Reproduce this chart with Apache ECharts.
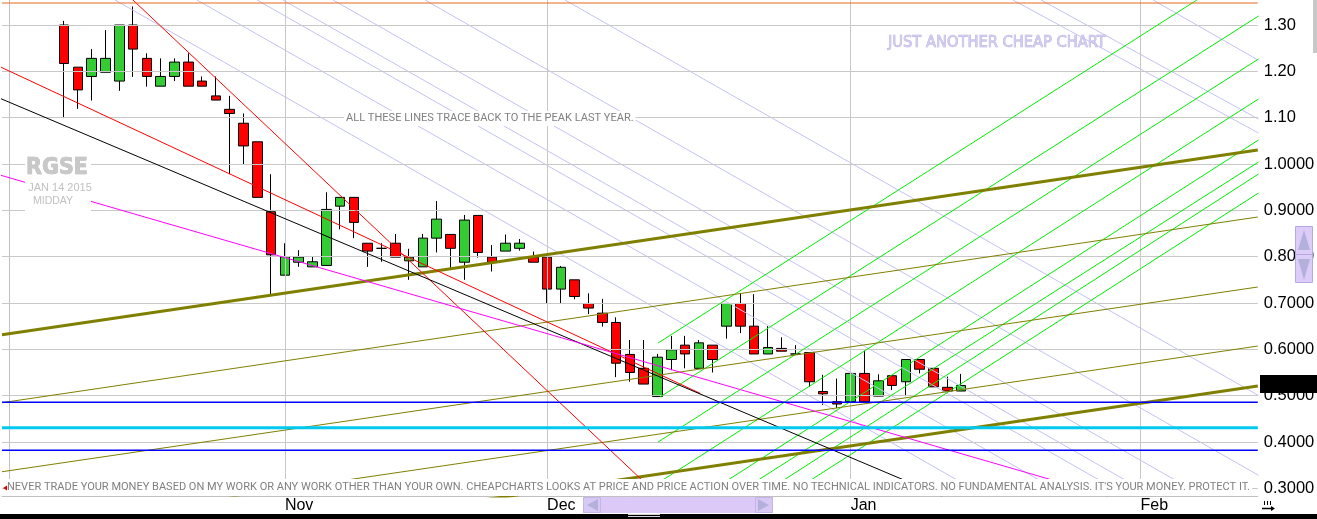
<!DOCTYPE html>
<html>
<head>
<meta charset="utf-8">
<script src="https://cdn.jsdelivr.net/npm/echarts@6/dist/echarts.min.js"></script>
<style>
html,body{margin:0;padding:0;background:#fff;overflow:hidden}
#chart{width:1317px;height:519px}
</style>
</head>
<body>
<div id="chart"></div>
<script>
// ---------- DATA ----------
const categories = [
 '2014-10-06','2014-10-07','2014-10-08','2014-10-09','2014-10-10','2014-10-13','2014-10-14','2014-10-15','2014-10-16','2014-10-17',
 '2014-10-20','2014-10-21','2014-10-22','2014-10-23','2014-10-24','2014-10-27','2014-10-28','2014-10-29','2014-10-30','2014-10-31',
 '2014-11-03','2014-11-04','2014-11-05','2014-11-06','2014-11-07','2014-11-10','2014-11-11','2014-11-12','2014-11-13','2014-11-14',
 '2014-11-17','2014-11-18','2014-11-19','2014-11-20','2014-11-21','2014-11-24','2014-11-25','2014-11-26','2014-11-28',
 '2014-12-01','2014-12-02','2014-12-03','2014-12-04','2014-12-05','2014-12-08','2014-12-09','2014-12-10','2014-12-11','2014-12-12',
 '2014-12-15','2014-12-16','2014-12-17','2014-12-18','2014-12-19','2014-12-22','2014-12-23','2014-12-24','2014-12-26','2014-12-29','2014-12-30','2014-12-31',
 '2015-01-02','2015-01-05','2015-01-06','2015-01-07','2015-01-08','2015-01-09','2015-01-12','2015-01-13','2015-01-14',
 '2015-01-15','2015-01-16','2015-01-19','2015-01-20','2015-01-21','2015-01-22','2015-01-23','2015-01-26','2015-01-27','2015-01-28','2015-01-29','2015-01-30',
 '2015-02-02','2015-02-03','2015-02-04','2015-02-05','2015-02-06','2015-02-09','2015-02-10','2015-02-11','2015-02-12'
];
const monthLabels = {'2014-11-03':'Nov','2014-12-01':'Dec','2015-01-02':'Jan','2015-02-02':'Feb'};
const firstCandle = '2014-10-10';

const opens = [1.300,1.209,1.189,1.198,1.179,1.300,1.228,1.168,1.189,1.220,1.179,1.147,1.118,1.088,1.048,0.897,
 0.760,0.788,0.778,0.781,0.909,0.928,0.829,0.818,0.829,0.791,0.778,0.840,0.848,0.788,0.889,0.799,0.812,0.818,0.799,
 0.799,0.730,0.750,0.699,0.678,0.658,0.589,0.559,0.498,0.578,0.609,0.559,0.609,0.650,0.699,0.650,0.590,0.602,0.590,0.593,0.509,0.487,
 0.487,0.548,0.499,0.543,0.530,0.578,0.559,0.518,0.510];
const closes = [1.217,1.160,1.228,1.228,1.300,1.248,1.189,1.189,1.220,1.168,1.168,1.138,1.109,1.039,0.928,0.804,
 0.800,0.799,0.789,0.902,0.928,0.874,0.812,0.818,0.799,0.799,0.840,0.881,0.818,0.879,0.809,0.788,0.829,0.829,0.788,
 0.730,0.777,0.714,0.689,0.658,0.570,0.550,0.525,0.583,0.599,0.590,0.614,0.578,0.699,0.650,0.590,0.604,0.596,0.590,0.530,0.504,0.482,
 0.548,0.487,0.532,0.522,0.578,0.557,0.519,0.510,0.522];
const lows = [1.099,1.119,1.137,1.198,1.158,1.188,1.167,1.168,1.179,1.168,1.168,1.138,0.978,0.999,0.928,0.717,
 0.760,0.778,0.778,0.781,0.859,0.840,0.778,0.789,0.799,0.750,0.778,0.809,0.775,0.750,0.798,0.768,0.812,0.813,0.788,
 0.699,0.699,0.708,0.676,0.649,0.540,0.530,0.525,0.498,0.555,0.559,0.559,0.550,0.623,0.635,0.590,0.590,0.596,0.590,0.519,0.480,0.473,
 0.487,0.487,0.499,0.512,0.499,0.548,0.519,0.510,0.510];
const highs = [1.309,1.209,1.248,1.289,1.300,1.340,1.239,1.228,1.228,1.239,1.189,1.189,1.147,1.109,1.048,0.978,
 0.829,0.814,0.800,0.939,0.928,0.928,0.829,0.829,0.849,0.817,0.849,0.920,0.848,0.890,0.889,0.825,0.848,0.838,0.811,
 0.799,0.780,0.750,0.721,0.709,0.669,0.620,0.620,0.590,0.629,0.629,0.620,0.609,0.699,0.721,0.719,0.650,0.626,0.609,0.593,0.545,0.537,
 0.548,0.597,0.546,0.543,0.578,0.578,0.559,0.541,0.547];

const yMin = 0.2834, yMax = 1.354;
const tickValues = [0.3,0.4,0.5,0.6,0.7,0.8,0.9,1.0,1.1,1.2,1.3];
const tickLabels = ['0.3000','0.4000','0.5000','0.6000','0.7000','0.8000','0.9000','1.0000','1.10','1.20','1.30'];

// trend lines: endpoints as [trading-day index, price]
const oliveThick = [[[-0.5,0.6315],[90.5,1.0302]], [[-0.5,0.1222],[90.5,0.5208]]];
const oliveThin  = [[[-0.5,0.4848],[90.5,0.8856]], [[-0.5,0.3358],[90.5,0.7345]], [[-0.5,0.2085],[90.5,0.6071]]];
const redLines   = [[[8.99,1.354],[47.1,0.2834]], [[-0.65,1.210],[50.1,0.5048]]];
const blackLine  = [[-0.65,1.1418],[67.6,0.2834]];
const magentaLine= [[-0.65,0.9762],[79.6,0.2834]];
const greenFan = [
 [[47.04,0.6136],[86.09,1.354]],
 [[47.18,0.4971],[90.55,1.3194]],
 [[47.04,0.3999],[90.55,1.2266]],
 [[47.04,0.3114],[90.55,1.1403]],
 [[50.30,0.2834],[90.55,1.0518]],
 [[52.47,0.2834],[90.55,1.0043]],
 [[54.36,0.2834],[90.55,0.9784]],
 [[56.31,0.2834],[90.55,0.9374]]
];
const lavenderFan = [
 [[7.69,1.354],[70.75,0.2834]],
 [[13.63,1.354],[76.69,0.2834]],
 [[17.98,1.354],[81.04,0.2834]],
 [[19.86,1.354],[82.92,0.2834]],
 [[23.49,1.354],[86.54,0.2834]],
 [[30.15,1.354],[90.55,0.3281]],
 [[40.30,1.354],[90.55,0.5003]],
 [[72.76,1.354],[90.55,1.0670]],
 [[74.79,1.354],[90.55,1.0970]],
 [[82.91,1.354],[90.55,1.2238]]
];
const blueLevels = [0.4856, 0.382];
const cyanLevel = 0.4308;
const orangeLevel = 1.3475;

// ---------- CHART ----------
const offset = categories.indexOf(firstCandle);
const candleData = categories.map((d, i) => {
  const k = i - offset;
  if (k < 0 || k >= opens.length) return '-';
  return [opens[k], closes[k], lows[k], highs[k]];
});
const monthIdx = categories.map((c, i) => monthLabels[c] ? i : -1).filter(i => i >= 0);

function seg(pts, color, width, z) {
  return {type:'line', xAxisIndex:1, yAxisIndex:0, data:pts, symbol:'none', silent:true,
    lineStyle:{color:color, width:width}, z:z || 5, clip:true, animation:false};
}
const lineSeries = [];
lavenderFan.forEach(p => lineSeries.push(seg(p, '#c2c2f4', 1, 4)));
greenFan.forEach(p => lineSeries.push(seg(p, '#00ee00', 1, 5)));
oliveThin.forEach(p => lineSeries.push(seg(p, '#808000', 1, 6)));
oliveThick.forEach(p => lineSeries.push(seg(p, '#808000', 3, 6)));
redLines.forEach(p => lineSeries.push(seg(p, '#ff0000', 1, 6)));
lineSeries.push(seg(blackLine, '#000000', 1, 6));
lineSeries.push(seg(magentaLine, '#ff00ff', 1, 6));
blueLevels.forEach(v => lineSeries.push(seg([[-0.5, v],[90.5, v]], '#0000ff', 1.5, 6)));
lineSeries.push(seg([[-0.5, cyanLevel],[90.5, cyanLevel]], '#00c8f0', 3, 6));
lineSeries.push(seg([[-0.5, orangeLevel],[90.5, orangeLevel]], '#e86a1c', 1.2, 6));

const gridSeries = {
  type:'line', xAxisIndex:1, yAxisIndex:0, data:[], symbol:'none', silent:true, z:0,
  markLine:{
    silent:true, symbol:['none','none'], animation:false,
    lineStyle:{color:'#c8c8c8', type:'solid', width:1},
    data: tickValues.map((v, i) => ({
      yAxis: v,
      label:{show:true, position:'end', formatter: tickLabels[i], color:'#000',
        fontSize:16.5, fontFamily:'"Liberation Sans", Arial, sans-serif', distance:6}
    })).concat(monthIdx.map(i => ({xAxis: i, label:{show:false}})))
  }
};

const chart = echarts.init(document.getElementById('chart'), null, {renderer:'canvas'});
const option = {
  animation:false,
  backgroundColor:'#ffffff',
  grid:{left:2, right:59.2, top:0, bottom:23, containLabel:false},
  xAxis:[
    {type:'category', data:categories, boundaryGap:true,
     axisLine:{show:true, lineStyle:{color:'#c0c0c0'}}, axisTick:{show:false}, splitLine:{show:false},
     axisLabel:{show:true, interval:(idx, val) => !!monthLabels[val], formatter:(val) => monthLabels[val] || '',
       color:'#000', fontSize:16, fontFamily:'"Liberation Sans", Arial, sans-serif', align:'left', margin:2, verticalAlign:'top'}},
    {type:'value', min:-0.5, max:90.5, show:false, splitLine:{show:false}}
  ],
  yAxis:[{type:'value', position:'right', min:yMin, max:yMax, scale:true,
    axisLine:{show:true, lineStyle:{color:'#c0c0c0'}}, axisTick:{show:false},
    axisLabel:{show:false}, splitLine:{show:false}}],
  series:[
    gridSeries,
    {type:'candlestick', xAxisIndex:0, yAxisIndex:0, data:candleData, barWidth:10, z:3,
     itemStyle:{color:'#33cc33', color0:'#ff0000', borderColor:'#000', borderColor0:'#000', borderColorDoji:'#000', borderWidth:1}}
  ].concat(lineSeries),
  graphic:[
    {type:'rect', z:100, shape:{x:25, y:151, width:66, height:61}, style:{fill:'#fff'}},
    {type:'text', z:101, x:57, y:168, style:{text:'RGSE', font:'bold 23px "DejaVu Sans Condensed", "DejaVu Sans"', fill:'#c8c8c8', align:'center', verticalAlign:'middle', stroke:'#adadad', lineWidth:0.6}},
    {type:'text', z:101, x:60, y:188, style:{text:'JAN 14 2015', font:'11px "Liberation Sans"', fill:'#c0c0c0', align:'center', verticalAlign:'middle'}},
    {type:'text', z:101, x:53, y:201.5, style:{text:'MIDDAY', font:'10.5px "Liberation Sans"', fill:'#c0c0c0', align:'center', verticalAlign:'middle'}},
    {type:'text', z:101, x:888, y:43, style:{text:'JUST ANOTHER CHEAP CHART', font:'16.3px "DejaVu Sans Condensed", "DejaVu Sans"', fill:'#d2caf0', align:'left', verticalAlign:'middle', stroke:'#b4acdc', lineWidth:0.7}},
    {type:'text', z:101, x:344, y:118.5, style:{text:'ALL THESE LINES TRACE BACK TO THE PEAK LAST YEAR.', font:'11.05px Roboto', fill:'#808080', align:'left', verticalAlign:'middle', backgroundColor:'#fff', padding:[2,2,2,2]}},
    {type:'text', z:101, x:5, y:487.5, style:{text:"NEVER TRADE YOUR MONEY BASED ON MY WORK OR ANY WORK OTHER THAN YOUR OWN. CHEAPCHARTS LOOKS AT PRICE AND PRICE ACTION OVER TIME. NO TECHNICAL INDICATORS. NO FUNDAMENTAL ANALYSIS. IT'S YOUR MONEY. PROTECT IT.", font:'11.03px Roboto', fill:'#808080', align:'left', verticalAlign:'middle', backgroundColor:'#fff', padding:[3,2,3,2]}},
    {type:'polygon', z:102, shape:{points:[[3,488],[7,485.5],[7,490.5]]}, style:{fill:'#e00000'}},
    // bottom scroll bar
    {type:'rect', z:100, shape:{x:583, y:497, width:190, height:16}, style:{fill:'#dcc9f7'}},
    {type:'rect', z:101, shape:{x:583.5, y:497.5, width:17, height:15}, style:{fill:'#d8c8f4', stroke:'#c4b4e8', lineWidth:1}},
    {type:'rect', z:101, shape:{x:755.5, y:497.5, width:17, height:15}, style:{fill:'#d8c8f4', stroke:'#c4b4e8', lineWidth:1}},
    {type:'polygon', z:102, shape:{points:[[587,505],[598,499],[598,511]]}, style:{fill:'#b4b0dc'}},
    {type:'polygon', z:102, shape:{points:[[769,505],[758,499],[758,511]]}, style:{fill:'#b4b0dc'}},
    // right widgets
    {type:'rect', z:100, shape:{x:1295.5, y:226.5, width:17, height:56}, style:{fill:'#dccdf8', stroke:'#b8a8e0', lineWidth:1}},
    {type:'line', z:101, shape:{x1:1296, y1:254.5, x2:1312, y2:254.5}, style:{stroke:'#b8a8e0', lineWidth:1}},
    {type:'polygon', z:102, shape:{points:[[1304,230],[1298,250],[1310,250]]}, style:{fill:'#b4b0dc'}},
    {type:'polygon', z:102, shape:{points:[[1304,280],[1298,259],[1310,259]]}, style:{fill:'#b4b0dc'}},
    {type:'rect', z:100, shape:{x:1313, y:0, width:4, height:53}, style:{fill:'#c8c8c8'}},
    {type:'rect', z:100, shape:{x:1260, y:375, width:57, height:18}, style:{fill:'#000'}},
    // bottom black bar and icons
    {type:'rect', z:100, shape:{x:0, y:514, width:1317, height:5}, style:{fill:'#000'}},
    {type:'line', z:101, shape:{x1:628, y1:514.5, x2:660, y2:514.5}, style:{stroke:'#d0d0d0', lineWidth:1}},
    {type:'line', z:101, shape:{x1:628, y1:516.5, x2:660, y2:516.5}, style:{stroke:'#d0d0d0', lineWidth:1}},
    {type:'line', z:101, shape:{x1:1264.5, y1:501, x2:1264.5, y2:505}, style:{stroke:'#000', lineWidth:1}},
    {type:'line', z:101, shape:{x1:1267.5, y1:501, x2:1267.5, y2:505}, style:{stroke:'#000', lineWidth:1}},
    {type:'line', z:101, shape:{x1:1270.5, y1:501, x2:1270.5, y2:505}, style:{stroke:'#000', lineWidth:1}},
    {type:'line', z:101, shape:{x1:1262, y1:508.5, x2:1273, y2:508.5}, style:{stroke:'#000', lineWidth:1.5}},
    {type:'polygon', z:101, shape:{points:[[1275,508.5],[1271,506],[1271,511]]}, style:{fill:'#000'}}
  ]
};
chart.setOption(option);
</script>
</body>
</html>
